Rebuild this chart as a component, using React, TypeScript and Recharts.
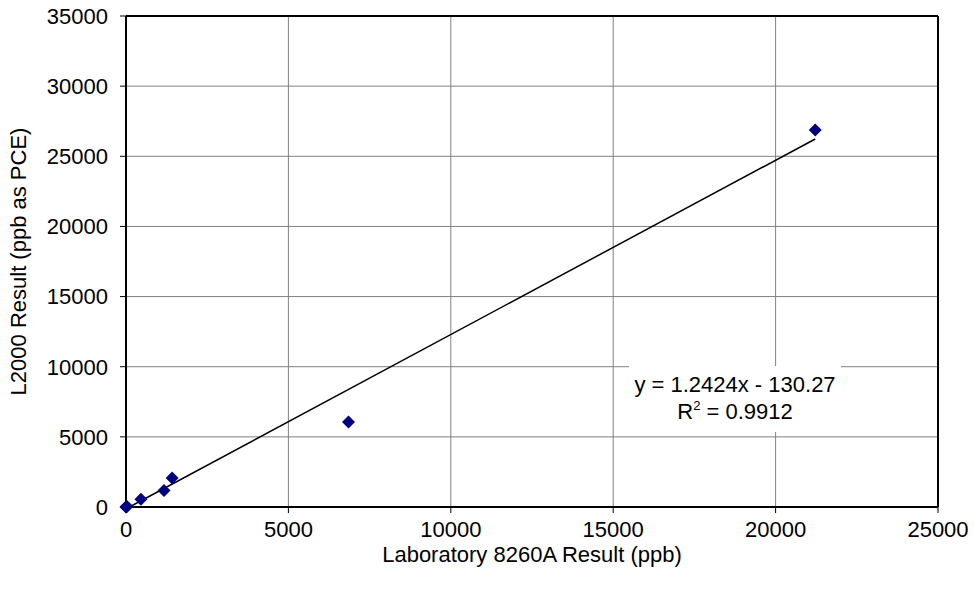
import React from 'react';
import {
  ScatterChart,
  Scatter,
  XAxis,
  YAxis,
  CartesianGrid,
  ReferenceLine,
} from 'recharts';

// lab result vs field result
const labResult = [0, 10, 30, 460, 1170, 1420, 6850, 21220];
const l2000Result = [0, 20, 40, 560, 1180, 2070, 6060, 26870];

const xTicks = [0, 5000, 10000, 15000, 20000, 25000];
const yTicks = [0, 5000, 10000, 15000, 20000, 25000, 30000, 35000];

const slope = 1.2424;
const intercept = -130.27;
const rSquared = '0.9912';

const FONT = '"Liberation Sans", Arial, sans-serif';

const points = labResult.map((x, i) => ({ x, y: l2000Result[i] }));
// trend line runs over the data range, cut where it crosses y = 0
const xStart = Math.max(Math.min(...labResult), -intercept / slope);
const xEnd = Math.max(...labResult);
const trend = [xStart, xEnd].map((x) => ({ x, y: slope * x + intercept }));

function Diamond(props: any) {
  const { cx, cy } = props;
  const r = 6.5;
  return (
    <polygon
      points={`${cx},${cy - r} ${cx + r},${cy} ${cx},${cy + r} ${cx - r},${cy}`}
      fill="#000080"
    />
  );
}

export default function App() {
  const tick = { fill: '#000', fontSize: 22, fontFamily: FONT };
  return (
    <div style={{ position: 'absolute', left: 0, top: 0, width: 974, height: 592, background: '#fff' }}>
      <ScatterChart width={974} height={592} margin={{ top: 16, right: 36, bottom: 0, left: 0 }}>
        <CartesianGrid stroke="#808080" strokeWidth={1} />
        <XAxis
          type="number"
          dataKey="x"
          domain={[0, 25000]}
          ticks={xTicks}
          height={85}
          tick={tick}
          tickSize={6}
          tickMargin={8}
          axisLine={{ stroke: '#000', strokeWidth: 2 }}
          tickLine={{ stroke: '#000' }}
          label={{
            value: 'Laboratory 8260A Result (ppb)',
            position: 'insideBottom',
            offset: 30,
            style: { fill: '#000', fontSize: 22, fontFamily: FONT },
          }}
        />
        <YAxis
          type="number"
          dataKey="y"
          domain={[0, 35000]}
          ticks={yTicks}
          width={126}
          tick={tick}
          tickSize={6}
          tickMargin={12}
          axisLine={{ stroke: '#000', strokeWidth: 2 }}
          tickLine={{ stroke: '#000' }}
          label={{
            value: 'L2000 Result (ppb as PCE)',
            angle: -90,
            position: 'insideLeft',
            offset: 18,
            style: { fill: '#000', fontSize: 22, fontFamily: FONT, textAnchor: 'middle' },
          }}
        />
        <ReferenceLine y={35000} stroke="#000" strokeWidth={2} />
        <ReferenceLine x={25000} stroke="#000" strokeWidth={2} />
        <Scatter
          data={trend}
          line={{ stroke: '#000', strokeWidth: 1.5 }}
          shape={() => null}
          isAnimationActive={false}
        />
        <Scatter data={points} shape={Diamond} isAnimationActive={false} />
      </ScatterChart>
      <div
        style={{
          position: 'absolute',
          left: 629,
          top: 366,
          width: 212,
          height: 66,
          background: '#fff',
          fontFamily: FONT,
          fontSize: 22,
          lineHeight: '27px',
          textAlign: 'center',
          paddingTop: 5,
          boxSizing: 'border-box',
          color: '#000',
        }}
      >
        <div>y = {slope}x - {Math.abs(intercept)}</div>
        <div>
          R<span style={{ fontSize: 13, position: 'relative', top: -9 }}>2</span> = {rSquared}
        </div>
      </div>
    </div>
  );
}
